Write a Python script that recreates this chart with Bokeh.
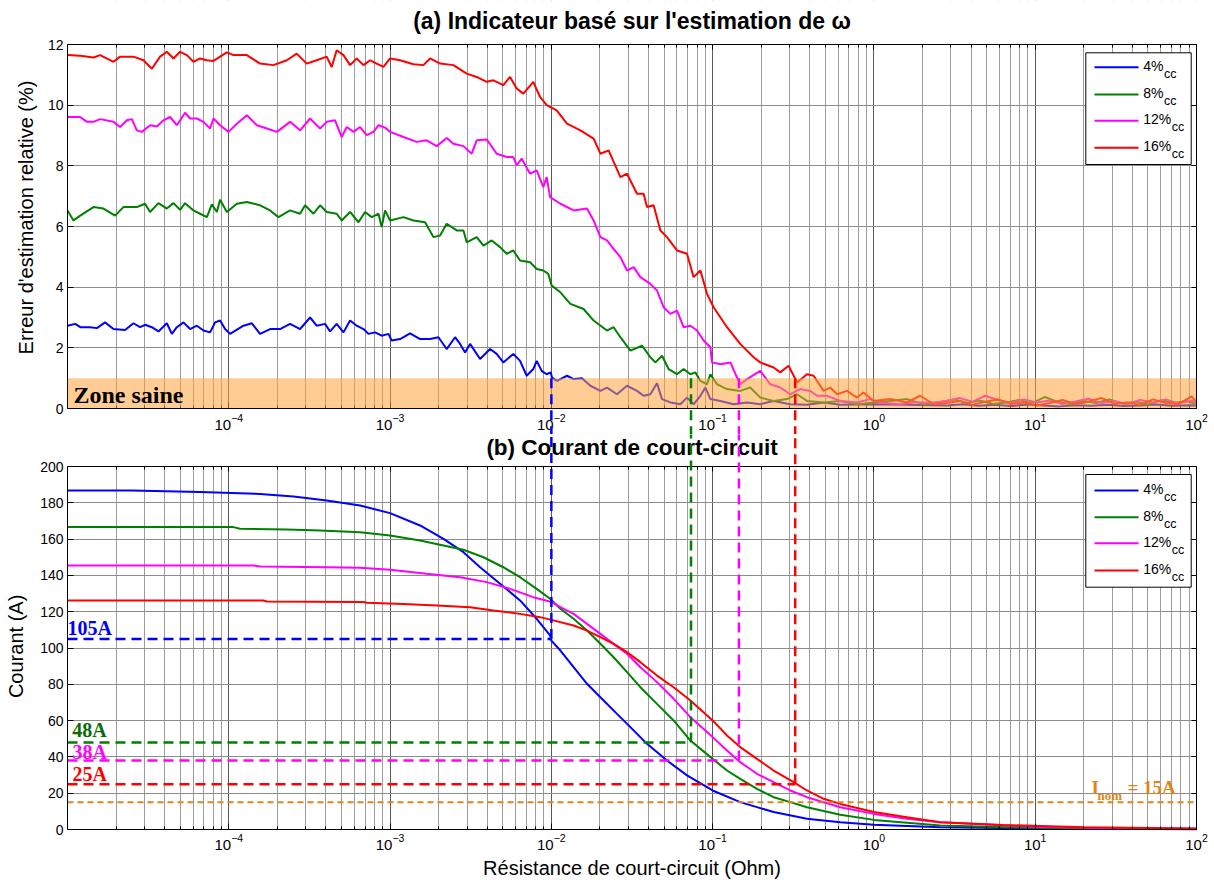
import numpy as np
from bokeh.plotting import figure
from bokeh.layouts import column
from bokeh.models import (FixedTicker, LinearAxis, BoxAnnotation, Label,
                          Arrow, ColumnDataSource, Range1d)
from bokeh.embed import file_html
from bokeh.resources import INLINE

# ---------------- data -----------------
series_names = ["4%", "8%", "12%", "16%"]

# (a) relative estimation error (%) ; x given as log10(R / Ohm)
a4_logR = [-5.000, -4.952, -4.921, -4.860, -4.818, -4.767, -4.715, -4.643, -4.591, -4.550,
           -4.519, -4.477, -4.436, -4.384, -4.353, -4.322, -4.281, -4.240, -4.198, -4.157,
           -4.116, -4.085, -4.054, -4.023, -3.992, -3.909, -3.857, -3.806, -3.744, -3.682,
           -3.620, -3.558, -3.496, -3.455, -3.403, -3.372, -3.331, -3.289, -3.248, -3.207,
           -3.165, -3.134, -3.093, -3.052, -3.010, -2.990, -2.938, -2.876, -2.814, -2.752,
           -2.700, -2.649, -2.597, -2.566, -2.535, -2.504, -2.442, -2.380, -2.339, -2.298,
           -2.236, -2.194, -2.153, -2.112, -2.091, -2.060, -2.029, -2.004, -1.996, -1.965,
           -1.903, -1.862, -1.810, -1.758, -1.696, -1.655, -1.593, -1.531, -1.469, -1.428,
           -1.386, -1.345, -1.314, -1.262, -1.200, -1.159, -1.118, -1.076, -1.045, -1.014,
           -0.952, -0.870, -0.787, -0.705, -0.622, -0.519, -0.415, -0.312, -0.209, -0.002,
           0.204, 0.45, 0.55, 0.65, 0.75, 0.85, 0.95, 1.05, 1.15, 1.25, 1.35, 1.45, 1.55,
           1.65, 1.75, 1.85, 1.95, 2.0]
a4_err = [2.73, 2.79, 2.68, 2.68, 2.65, 2.84, 2.62, 2.59, 2.81, 2.68,
          2.76, 2.68, 2.54, 2.81, 2.46, 2.68, 2.84, 2.62, 2.73, 2.57,
          2.51, 2.84, 2.90, 2.62, 2.46, 2.73, 2.81, 2.46, 2.62, 2.62,
          2.79, 2.62, 3.00, 2.73, 2.79, 2.54, 2.79, 2.51, 2.90, 2.73,
          2.62, 2.46, 2.51, 2.40, 2.46, 2.24, 2.29, 2.48, 2.29, 2.29,
          2.35, 1.96, 2.35, 2.13, 1.85, 2.13, 1.63, 1.96, 1.80, 1.52,
          1.80, 1.57, 1.08, 1.30, 1.57, 1.24, 1.13, 1.19, 1.02, 0.91,
          1.08, 0.97, 1.00, 0.75, 0.58, 0.69, 0.47, 0.75, 0.58, 0.42,
          0.47, 0.83, 0.31, 0.20, 0.14, 0.36, 0.14, 0.42, 0.69, 0.31,
          0.25, 0.14, 0.20, 0.14, 0.25, 0.14, 0.12, 0.20, 0.12, 0.14,
          0.12, 0.10, 0.14, 0.09, 0.12, 0.08, 0.13, 0.10, 0.07, 0.11, 0.09, 0.12, 0.08,
          0.10, 0.13, 0.09, 0.11, 0.10]

a8_logR = [-5.000, -4.963, -4.921, -4.839, -4.777, -4.705, -4.653, -4.570, -4.519, -4.488,
           -4.436, -4.384, -4.343, -4.302, -4.271, -4.219, -4.178, -4.136, -4.105, -4.074,
           -4.054, -4.012, -3.950, -3.888, -3.806, -3.744, -3.692, -3.620, -3.558, -3.527,
           -3.475, -3.434, -3.393, -3.331, -3.300, -3.248, -3.196, -3.155, -3.114, -3.072,
           -3.052, -3.031, -3.000, -2.917, -2.855, -2.783, -2.731, -2.690, -2.649, -2.587,
           -2.545, -2.525, -2.463, -2.421, -2.370, -2.318, -2.277, -2.236, -2.194, -2.132,
           -2.091, -2.050, -2.019, -1.998, -1.944, -1.882, -1.800, -1.738, -1.655, -1.614,
           -1.572, -1.510, -1.438, -1.386, -1.355, -1.314, -1.273, -1.221, -1.180, -1.138,
           -1.107, -1.076, -1.035, -1.014, -0.973, -0.911, -0.829, -0.767, -0.705, -0.622,
           -0.539, -0.477, -0.415, -0.312, -0.209, -0.105, -0.002, 0.101, 0.204, 0.308,
           0.42, 0.50, 0.58, 0.66, 0.74, 0.82, 0.90, 0.98, 1.06, 1.14, 1.22, 1.30, 1.38,
           1.46, 1.54, 1.62, 1.70, 1.78, 1.86, 1.94, 2.0]
a8_err = [6.53, 6.20, 6.36, 6.64, 6.59, 6.36, 6.64, 6.64, 6.75, 6.48,
          6.77, 6.59, 6.77, 6.55, 6.77, 6.53, 6.42, 6.31, 6.73, 6.48,
          6.88, 6.48, 6.75, 6.81, 6.70, 6.53, 6.31, 6.53, 6.42, 6.70,
          6.42, 6.70, 6.48, 6.42, 6.20, 6.48, 6.14, 6.48, 6.31, 6.42,
          5.98, 6.53, 6.20, 6.31, 6.20, 6.14, 5.65, 5.70, 6.09, 5.87,
          5.87, 5.48, 5.65, 5.37, 5.54, 5.32, 5.10, 5.21, 4.88, 4.82,
          4.60, 4.55, 4.44, 4.05, 3.83, 3.45, 3.28, 2.90, 2.57, 2.68,
          2.35, 1.91, 2.07, 1.69, 1.52, 1.74, 1.30, 1.13, 1.30, 1.13,
          1.19, 0.91, 0.80, 1.13, 0.80, 0.64, 0.58, 0.69, 0.36, 0.25,
          0.31, 0.47, 0.25, 0.20, 0.25, 0.14, 0.20, 0.25, 0.31, 0.14,
          0.22, 0.30, 0.18, 0.26, 0.15, 0.20, 0.28, 0.17, 0.38, 0.22, 0.14, 0.25, 0.18,
          0.30, 0.16, 0.22, 0.13, 0.27, 0.19, 0.24, 0.15]

a12_logR = [-5.000, -4.921, -4.880, -4.839, -4.798, -4.715, -4.674, -4.632, -4.601, -4.570,
            -4.539, -4.488, -4.446, -4.405, -4.364, -4.322, -4.271, -4.240, -4.198, -4.157,
            -4.116, -4.095, -4.054, -4.002, -3.950, -3.888, -3.826, -3.764, -3.702, -3.620,
            -3.558, -3.496, -3.434, -3.393, -3.341, -3.300, -3.269, -3.227, -3.186, -3.145,
            -3.103, -3.072, -3.031, -3.000, -2.917, -2.835, -2.773, -2.711, -2.649, -2.607,
            -2.545, -2.494, -2.463, -2.401, -2.339, -2.277, -2.236, -2.215, -2.184, -2.132,
            -2.091, -2.050, -2.029, -2.008, -1.944, -1.862, -1.779, -1.738, -1.696, -1.655,
            -1.614, -1.572, -1.531, -1.490, -1.448, -1.386, -1.345, -1.304, -1.262, -1.221,
            -1.180, -1.138, -1.097, -1.056, -1.014, -1.004, -0.952, -0.890, -0.849, -0.829,
            -0.787, -0.705, -0.643, -0.581, -0.519, -0.457, -0.395, -0.353, -0.291, -0.209,
            -0.105, -0.023, 0.039, 0.163, 0.246, 0.370,
            0.45, 0.53, 0.61, 0.69, 0.77, 0.85, 0.93, 1.01, 1.09, 1.17, 1.25, 1.33, 1.41,
            1.49, 1.57, 1.65, 1.73, 1.81, 1.89, 1.97, 2.0]
a12_err = [9.61, 9.61, 9.45, 9.45, 9.54, 9.45, 9.28, 9.50, 9.54, 9.17,
           9.12, 9.34, 9.30, 9.50, 9.61, 9.34, 9.75, 9.56, 9.56, 9.45,
           9.23, 9.56, 9.34, 9.12, 9.39, 9.67, 9.34, 9.23, 9.12, 9.45,
           9.17, 9.56, 9.23, 9.45, 9.50, 8.95, 9.28, 9.12, 9.28, 9.01,
           9.12, 9.34, 9.26, 9.12, 8.95, 8.79, 8.84, 8.65, 8.92, 8.73,
           8.65, 8.40, 8.84, 8.87, 8.40, 8.29, 8.29, 8.02, 8.24, 7.74,
           7.85, 7.30, 7.63, 6.97, 6.75, 6.53, 6.59, 6.20, 5.65, 5.54,
           5.26, 4.99, 4.55, 4.66, 4.33, 4.11, 3.89, 3.34, 3.12, 3.23,
           2.68, 2.73, 2.57, 2.24, 2.02, 1.52, 1.46, 1.52, 1.02, 0.80,
           0.97, 1.24, 0.80, 0.69, 0.47, 0.64, 0.58, 0.42, 0.42, 0.25,
           0.20, 0.31, 0.20, 0.14, 0.20, 0.20,
           0.25, 0.35, 0.22, 0.42, 0.28, 0.18, 0.30, 0.20, 0.26, 0.15, 0.23, 0.32, 0.18,
           0.25, 0.14, 0.28, 0.20, 0.30, 0.17, 0.26, 0.20]

a16_logR = [-5.000, -4.921, -4.839, -4.798, -4.715, -4.674, -4.591, -4.529, -4.477, -4.426,
            -4.384, -4.343, -4.302, -4.260, -4.219, -4.178, -4.136, -4.095, -4.054, -4.012,
            -3.971, -3.888, -3.806, -3.723, -3.640, -3.579, -3.517, -3.455, -3.393, -3.362,
            -3.331, -3.289, -3.248, -3.207, -3.165, -3.124, -3.083, -3.041, -3.000, -2.938,
            -2.855, -2.793, -2.752, -2.690, -2.607, -2.525, -2.463, -2.401, -2.360, -2.298,
            -2.256, -2.215, -2.174, -2.112, -2.070, -2.029, -1.967, -1.903, -1.820, -1.738,
            -1.696, -1.645, -1.572, -1.531, -1.469, -1.428, -1.407, -1.366, -1.324, -1.283,
            -1.221, -1.159, -1.118, -1.076, -1.035, -0.994, -0.911, -0.829, -0.746, -0.705,
            -0.622, -0.581, -0.529, -0.477, -0.415, -0.374, -0.312, -0.271, -0.229, -0.167,
            -0.105, -0.064, -0.002, 0.101, 0.204, 0.287, 0.370,
            0.45, 0.53, 0.61, 0.69, 0.77, 0.85, 0.93, 1.01, 1.09, 1.17, 1.25, 1.33, 1.41,
            1.49, 1.57, 1.65, 1.73, 1.81, 1.89, 1.97, 2.0]
a16_err = [11.65, 11.63, 11.57, 11.65, 11.43, 11.60, 11.60, 11.48, 11.20, 11.60,
           11.76, 11.54, 11.76, 11.65, 11.43, 11.54, 11.48, 11.46, 11.60, 11.74,
           11.65, 11.65, 11.37, 11.32, 11.48, 11.70, 11.37, 11.48, 11.60, 11.26,
           11.81, 11.65, 11.32, 11.54, 11.32, 11.48, 11.37, 11.26, 11.54, 11.48,
           11.35, 11.32, 11.54, 11.37, 11.32, 11.04, 10.93, 10.77, 10.82, 10.66,
           10.93, 10.55, 10.38, 10.77, 10.27, 10.00, 9.83, 9.39, 9.17, 8.90,
           8.40, 8.51, 7.63, 7.74, 7.08, 7.08, 6.64, 6.70, 5.87, 5.65,
           5.21, 5.10, 4.33, 4.55, 3.78, 3.34, 2.68, 2.13, 1.69, 1.52,
           1.35, 1.19, 1.41, 0.86, 1.13, 1.08, 0.58, 0.69, 0.47, 0.58,
           0.36, 0.53, 0.25, 0.31, 0.20, 0.42, 0.14,
           0.18, 0.25, 0.12, 0.22, 0.30, 0.15, 0.20, 0.10, 0.18, 0.28, 0.14, 0.22, 0.35,
           0.16, 0.20, 0.12, 0.30, 0.18, 0.15, 0.40, 0.22]

# (b) short-circuit current (A) ; x given as log10(R / Ohm)
b4_logR = [-5.000, -4.601, -4.178, -3.806, -3.599, -3.393, -3.186, -3.000, -2.814, -2.669,
           -2.545, -2.442, -2.318, -2.194, -2.091, -2.008, -2.000, -1.944, -1.862, -1.779,
           -1.696, -1.593, -1.510, -1.407, -1.283, -1.159, -1.000, -0.829, -0.622, -0.415,
           -0.209, 0.000, 0.411, 1.0, 1.5, 2.0]
b4_I = [186.8, 186.8, 185.9, 184.9, 183.5, 181.3, 178.5, 174.3, 167.5, 160.1,
        152.8, 144.5, 135.4, 126.2, 116.1, 106.9, 104.1, 98.6, 89.4, 80.3,
        72.9, 63.7, 56.4, 47.2, 38.0, 29.8, 21.5, 15.1, 9.6, 5.9,
        4.0, 2.6, 1.3, 0.6, 0.35, 0.2]

b8_logR = [-5.000, -3.971, -3.930, -3.640, -3.434, -3.186, -3.000, -2.814, -2.669, -2.545,
           -2.421, -2.298, -2.194, -2.091, -2.008, -1.944, -1.862, -1.779, -1.696, -1.614,
           -1.531, -1.448, -1.345, -1.242, -1.138, -1.000, -0.911, -0.829, -0.725, -0.622,
           -0.519, -0.415, -0.209, 0.000, 0.411, 1.0, 1.5, 2.0]
b8_I = [166.6, 166.6, 165.7, 165.3, 164.7, 163.8, 162.0, 159.2, 156.5, 154.1,
        150.0, 144.5, 139.0, 132.6, 127.1, 121.6, 116.1, 109.6, 102.3, 94.9,
        86.7, 78.4, 69.2, 60.1, 49.0, 38.9, 32.5, 27.9, 22.4, 17.8,
        15.1, 12.3, 8.1, 5.3, 2.2, 0.9, 0.5, 0.3]

b12_logR = [-5.000, -3.847, -3.806, -3.393, -3.186, -3.000, -2.773, -2.566, -2.401, -2.256,
            -2.112, -1.998, -1.944, -1.862, -1.779, -1.696, -1.614, -1.531, -1.448, -1.345,
            -1.242, -1.138, -1.000, -0.911, -0.829, -0.725, -0.622, -0.519, -0.415, -0.209,
            0.000, 0.204, 0.411, 1.0, 1.5, 2.0]
b12_I = [145.5, 145.5, 144.9, 144.5, 144.2, 143.1, 140.9, 139.0, 136.3, 132.6,
         128.0, 125.3, 122.5, 118.8, 113.3, 107.8, 102.3, 96.8, 89.4, 81.2,
         72.0, 61.9, 50.9, 43.5, 37.1, 30.7, 26.1, 21.5, 17.8, 12.3,
         8.6, 5.9, 4.0, 1.5, 0.7, 0.4]

b16_logR = [-5.000, -3.785, -3.764, -3.165, -3.145, -2.917, -2.711, -2.504, -2.360, -2.194,
            -2.070, -2.000, -1.862, -1.779, -1.696, -1.614, -1.531, -1.448, -1.345, -1.242,
            -1.138, -1.000, -0.911, -0.829, -0.725, -0.622, -0.498, -0.415, -0.312, -0.209,
            0.000, 0.204, 0.411, 0.8, 1.3, 2.0]
b16_I = [126.2, 126.2, 125.6, 125.4, 124.9, 124.3, 123.4, 122.5, 120.7, 118.8,
         117.0, 115.5, 112.4, 109.6, 106.0, 102.3, 97.7, 92.2, 84.8, 78.4,
         71.1, 60.1, 51.8, 45.4, 38.9, 32.5, 26.1, 21.5, 16.9, 14.1,
         9.6, 6.8, 4.0, 2.5, 1.2, 0.5]

# detection thresholds : resistance where error enters healthy zone, and current there
thr_R = [0.01, 0.0734, 0.1455, 0.325]
thr_I = [105, 48, 38, 25]
thr_text = ["105A", "48A", "38A", "25A"]
healthy_limit = 1.0   # % (Zone saine)
I_nom = 15

x_lim = (1e-5, 1e2)
x_major = [1e-4, 1e-3, 1e-2, 1e-1, 1e0, 1e1, 1e2]
y_ticks_a = [0, 2, 4, 6, 8, 10, 12]
y_ticks_b = [0, 20, 40, 60, 80, 100, 120, 140, 160, 180, 200]

# ---------------- layout / styling -----------------
SANS = "Liberation Sans"
SERIF = "Liberation Serif"
COLORS = ["#0000FF", "#008000", "#FF00FF", "#FF0000"]
TXT_COLORS = ["#0000FF", "#0B6B0B", "#FF00FF", "#FF0000"]
ORANGE = "#E0841A"
BAND = "#FFA43A"

x_minor = [m * 10.0 ** e for e in range(-5, 2) for m in range(2, 10)]

W = 1214
FRAME_L, FRAME_R = 67, 1196     # pixel columns of the panel boxes
A_TOP, A_BOT = 44, 408          # pixel rows of panel (a) box
B_TOP, B_BOT = 466, 829         # pixel rows of panel (b) box
SPLIT, H = 434, 880             # figure (a) covers 0..SPLIT, figure (b) SPLIT..H

a_ppu = (A_BOT - A_TOP) / 12.0
b_ppu = (B_BOT - B_TOP) / 200.0


def fx(px):
    return 10 ** (-5 + 7 * (px - FRAME_L) / (FRAME_R - FRAME_L))


def fya(py):
    return (A_BOT - py) / a_ppu


def fyb(py):
    return (B_BOT - py) / b_ppu


def make_fig(height, y_lo, y_hi, ymax_box, yticks, ylabel, ylab_standoff, xlab_standoff):
    p = figure(width=W, height=height, x_axis_type="log",
               x_range=Range1d(x_lim[0], fx(W)), y_range=Range1d(y_lo, y_hi),
               output_backend="svg", toolbar_location=None,
               min_border_left=FRAME_L, min_border_right=0,
               min_border_top=0, min_border_bottom=0)
    xt = FixedTicker(ticks=x_major, minor_ticks=x_minor)
    yt = FixedTicker(ticks=yticks)
    p.xaxis.ticker = xt
    p.yaxis.ticker = yt
    p.xgrid.ticker = xt
    p.ygrid.ticker = yt
    p.background_fill_color = "white"
    p.border_fill_color = "white"
    p.outline_line_color = None

    p.xgrid.grid_line_color = "#5a5a5a"
    p.xgrid.minor_grid_line_color = "#9c9c9c"
    p.ygrid.grid_line_color = "#8c8c8c"

    # hide the grid outside the panel box
    for kw in (dict(bottom=ymax_box), dict(top=0), dict(left=x_lim[1])):
        p.add_layout(BoxAnnotation(level="underlay", fill_color="white", fill_alpha=1.0,
                                   line_color=None, **kw))

    xa, ya = p.xaxis[0], p.yaxis[0]
    xa.fixed_location = 0
    xa.bounds = x_lim
    ya.bounds = (0, ymax_box)
    for ax in (xa, ya):
        ax.axis_line_color = "black"
        ax.major_tick_in = 6
        ax.major_tick_out = 0
        ax.minor_tick_in = 3
        ax.minor_tick_out = 0
        ax.major_tick_line_color = "black"
        ax.minor_tick_line_color = "black"
        ax.major_label_text_font = SANS
        ax.major_label_text_color = "black"
        ax.axis_label_text_font = SANS
        ax.axis_label_text_font_style = "normal"
        ax.axis_label_text_font_size = "20px"
        ax.axis_label_text_color = "black"
    xa.major_label_text_font_size = "15px"
    xa.major_label_standoff = xlab_standoff
    ya.major_label_text_font_size = "14px"
    ya.major_label_standoff = 4
    ya.axis_label = ylabel
    ya.axis_label_standoff = ylab_standoff

    # mirrored tick marks (Matlab box)
    top_ax = LinearAxis(ticker=xt, fixed_location=ymax_box, bounds=x_lim,
                        major_label_text_font_size="1px",
                        major_label_text_alpha=0, axis_line_color=None,
                        major_tick_in=5, major_tick_out=0, minor_tick_in=3, minor_tick_out=0,
                        major_label_standoff=0, major_tick_line_color="black",
                        minor_tick_line_color="black")
    p.add_layout(top_ax, "above")
    right_ax = LinearAxis(ticker=yt, fixed_location=x_lim[1], bounds=(0, ymax_box),
                          major_label_text_font_size="1px",
                          major_label_text_alpha=0, axis_line_color=None,
                          major_tick_in=5, major_tick_out=0, minor_tick_in=0,
                          minor_tick_out=0, major_label_standoff=0,
                          major_tick_line_color="black")
    p.add_layout(right_ax, "right")
    return p


def add_box(p, ymax_box):
    p.add_layout(BoxAnnotation(bottom=0, top=ymax_box, right=x_lim[1], fill_alpha=0.0,
                               fill_color=None, line_color="black", line_alpha=1.0,
                               line_width=1))


def add_text(p, x, y, text, font=SANS, size="23px", style="bold", color="black",
             align="left", x_offset=0, y_offset=0):
    p.add_layout(Label(x=x, y=y, text=text, text_font=font, text_font_style=style,
                       text_font_size=size, text_color=color, text_align=align,
                       text_baseline="middle", x_offset=x_offset, y_offset=y_offset))


def add_legend(p, fy, box_top, box_bot, line_ys):
    p.add_layout(BoxAnnotation(left=fx(1085.3), right=fx(1190.7), top=fy(box_top),
                               bottom=fy(box_bot), fill_color="white", fill_alpha=1.0,
                               line_color="black", line_alpha=1.0, line_width=1))
    for name, c, ly in zip(series_names, COLORS, line_ys):
        p.add_layout(Arrow(end=None, x_start=fx(1094), y_start=fy(ly), x_end=fx(1138),
                           y_end=fy(ly), line_color=c, line_width=2))
        add_text(p, fx(1142.7), fy(ly - 1.7), name, size="14px", style="normal")
        w = 0.556 * 14 * (len(name) - 1) + 0.889 * 14 + 0.5
        add_text(p, fx(1142.7), fy(ly - 1.7), "cc", size="12.5px", style="normal",
                 x_offset=w, y_offset=-8)


X_MID = fx((FRAME_L + FRAME_R) / 2)
NB = "\u00a0"

# ---------------- (a) -----------------
p1 = make_fig(SPLIT, fya(SPLIT), fya(0), 12, y_ticks_a,
              "Erreur d'estimation relative (%)", 8, 5)
for lx, ly, c in zip([a4_logR, a8_logR, a12_logR, a16_logR],
                     [a4_err, a8_err, a12_err, a16_err], COLORS):
    p1.line(10 ** np.array(lx), ly, line_color=c, line_width=2)

p1.add_layout(BoxAnnotation(bottom=0, top=healthy_limit, right=x_lim[1], fill_color=BAND,
                            fill_alpha=0.55, line_color=None))
add_box(p1, 12)
add_text(p1, X_MID, fya(20), "(a) Indicateur basé sur l'estimation de ω", align="center")
add_text(p1, fx(73), fya(394.5), "Zone saine", font=SERIF, size="24px")
for xr, c in zip(thr_R, COLORS):
    p1.add_layout(Arrow(end=None, x_start=xr, y_start=healthy_limit, x_end=xr,
                        y_end=fya(SPLIT + 20), line_color=c, line_width=2.5,
                        line_dash="10 6"))
add_legend(p1, fya, 52.3, 164, [66.7, 94, 120.3, 147.3])

# ---------------- (b) -----------------
p2 = make_fig(H - SPLIT, fyb(H), fyb(SPLIT), 200, y_ticks_b,
              NB * 4 + "Courant (A)", 10, 4)
add_text(p2, X_MID, fyb(447), "(b) Courant de court-circuit", size="22.5px",
         align="center")
add_text(p2, X_MID, fyb(867), "Résistance de court-circuit (Ohm)", size="20px",
         style="normal", align="center")

for lx, ly, c in zip([b4_logR, b8_logR, b12_logR, b16_logR],
                     [b4_I, b8_I, b12_I, b16_I], COLORS):
    p2.line(10 ** np.array(lx), ly, line_color=c, line_width=2)

p2.segment(x0=[x_lim[0]], y0=[I_nom], x1=[x_lim[1]], y1=[I_nom], line_color=ORANGE,
           line_width=2, line_dash="6 4")
hsrc = ColumnDataSource(dict(x0=[x_lim[0]] * len(thr_R), x1=thr_R, y=thr_I, c=COLORS))
p2.segment(x0="x0", y0="y", x1="x1", y1="y", source=hsrc, line_color="c",
           line_width=2.5, line_dash="10 6")
add_box(p2, 200)
for xr, yi, c in zip(thr_R, thr_I, COLORS):
    p2.add_layout(Arrow(end=None, x_start=xr, y_start=yi, x_end=xr, y_end=fyb(SPLIT - 20),
                        line_color=c, line_width=2.5, line_dash="10 6"))

lab_px = [(67, 627.5), (71.7, 729.5), (72, 751), (72, 773.5)]
for t, c, (px, py) in zip(thr_text, TXT_COLORS, lab_px):
    add_text(p2, fx(px), fyb(py), t, font=SERIF, size="20px", color=c)

add_text(p2, fx(1091), fyb(787), "I", font=SERIF, size="19px", color=ORANGE)
add_text(p2, fx(1097), fyb(795), "nom", font=SERIF, size="13px", color=ORANGE)
add_text(p2, fx(1127), fyb(787), "= 15A", font=SERIF, size="19px", color=ORANGE)
add_legend(p2, fyb, 474, 586.7, [490, 516.7, 542.7, 570])

layout = column(p1, p2)
open("out.html", "w").write(file_html(layout, INLINE))
